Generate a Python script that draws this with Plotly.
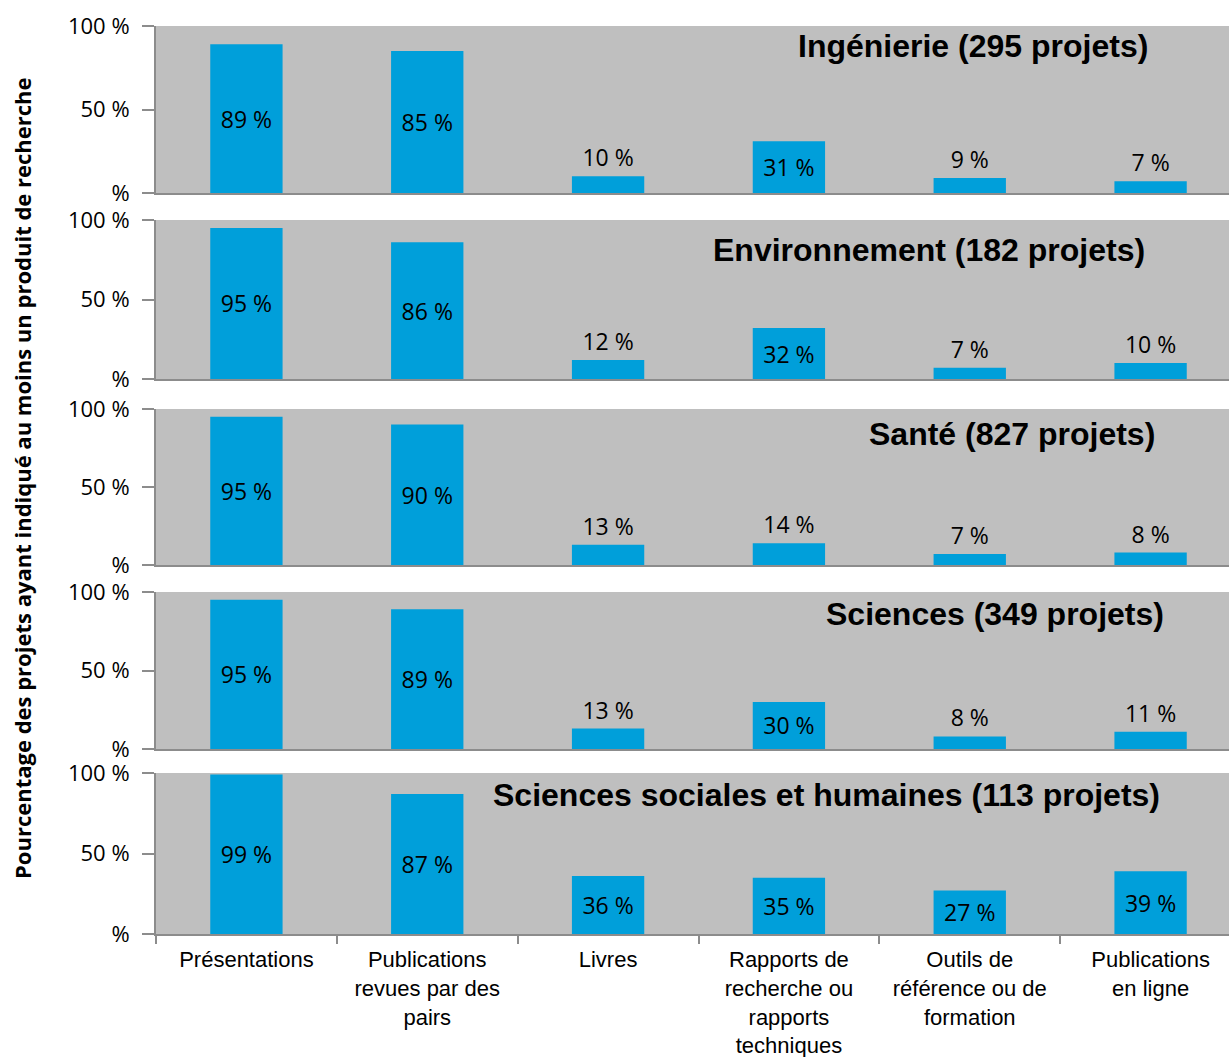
import plotly.graph_objects as go

categories = [
    "Présentations",
    "Publications<br>revues par des<br>pairs",
    "Livres",
    "Rapports de<br>recherche ou<br>rapports<br>techniques",
    "Outils de<br>référence ou de<br>formation",
    "Publications<br>en ligne",
]
panel_titles = [
    "Ingénierie (295 projets)",
    "Environnement (182 projets)",
    "Santé (827 projets)",
    "Sciences (349 projets)",
    "Sciences sociales et humaines (113 projets)",
]
ingenierie = [89, 85, 10, 31, 9, 7]
environnement = [95, 86, 12, 32, 7, 10]
sante = [95, 90, 13, 14, 7, 8]
sciences = [95, 89, 13, 30, 8, 11]
sciences_sociales = [99, 87, 36, 35, 27, 39]
series = [ingenierie, environnement, sante, sciences, sciences_sociales]
ytick_vals = [0, 50, 100]
ytick_text = ["%", "50 %", "100 %"]
y_title = "Pourcentage des projets ayant indiqué au moins un produit de recherche"

W, H = 1241, 1057
ML, MR, MT, MB = 156, 0, 26, 123
PH = H - MT - MB
# panel pixel extents (top, bottom)
panels_px = [(26, 193), (220, 379), (409, 565), (592, 749), (773, 934)]
title_px = [(1150, 46), (1147, 250), (1157, 434), (1166, 614), (1162, 795)]

BLUE = "#009FDA"
GRAY_BG = "#BFBFBF"
AXIS = "#8C8C8C"
LABEL_FONT = "Open Sans"
fig = go.Figure()
layout = dict(
    width=W, height=H,
    margin=dict(l=ML, r=MR, t=MT, b=MB, autoexpand=False),
    paper_bgcolor="white",
    plot_bgcolor=GRAY_BG,
    showlegend=False,
    bargap=0.6,
    annotations=[],
    shapes=[],
)

for i, vals in enumerate(series):
    n = i + 1
    xa = "x" if n == 1 else f"x{n}"
    ya = "y" if n == 1 else f"y{n}"
    pos = ["inside" if v >= 20 else "outside" for v in vals]
    fig.add_trace(go.Bar(
        x=categories, y=vals, xaxis=xa, yaxis=ya,
        marker=dict(color=BLUE, line=dict(width=0)),
        text=[f"{v} %" for v in vals],
        textposition=pos,
        insidetextanchor="middle",
        textfont=dict(family=LABEL_FONT, size=23, color="black"),
        cliponaxis=False,
        constraintext="none",
        hoverinfo="skip",
    ))
    top, bot = panels_px[i]
    dom = [(H - MB - bot) / PH, (H - MB - top) / PH]
    last = (n == 5)
    layout[f"xaxis{'' if n == 1 else n}"] = dict(
        domain=[0, 1], anchor=ya,
        type="category", categoryorder="array", categoryarray=categories,
        range=[-0.5, 5.5],
        showline=True, linecolor=AXIS, linewidth=2,
        showgrid=False, zeroline=False,
        showticklabels=last,
        ticks="outside" if last else "",
        tickson="boundaries", ticklen=8, tickcolor=AXIS, tickwidth=2,
        tickfont=dict(family="Liberation Sans", size=22, color="black"),
        ticklabelstandoff=5,
        automargin=False,
        fixedrange=True,
    )
    layout[f"yaxis{'' if n == 1 else n}"] = dict(
        domain=dom, anchor=xa,
        range=[0, 100],
        tickvals=ytick_vals, ticktext=ytick_text,
        showline=True, linecolor=AXIS, linewidth=2,
        ticks="outside", ticklen=12, tickcolor=AXIS, tickwidth=2,
        showgrid=False, zeroline=False,
        tickfont=dict(family=LABEL_FONT, size=22, color="black"),
        ticklabelstandoff=8,
        automargin=False,
        fixedrange=True,
    )
    tx, ty = title_px[i]
    layout["annotations"].append(dict(
        text=f"<b>{panel_titles[i]}</b>",
        xref="paper", yref="paper",
        x=(tx - ML) / (W - ML - MR), y=(H - MB - ty) / PH,
        xanchor="right", yanchor="middle", showarrow=False,
        font=dict(family="Liberation Sans", size=32, color="black"),
    ))

layout["annotations"].append(dict(
    text=f"<b>{y_title}</b>",
    xref="paper", yref="paper",
    x=(22 - ML) / (W - ML - MR), y=(H - MB - 478) / PH,
    xanchor="center", yanchor="middle", textangle=-90, showarrow=False,
    font=dict(family=LABEL_FONT, size=22, color="black"),
))

fig.update_layout(**layout)
fig.write_html(
    "out.html",
    config={"displayModeBar": False},
    post_script="document.body.style.margin='0';document.body.style.overflow='hidden';",
)
